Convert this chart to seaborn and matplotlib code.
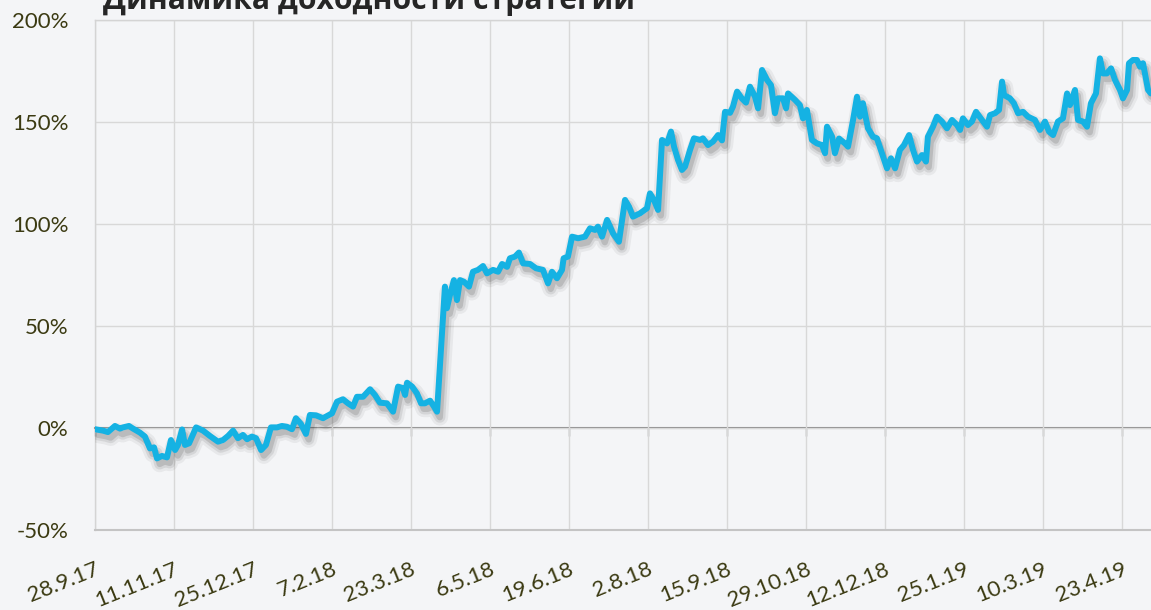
import pandas as pd
import matplotlib
matplotlib.use('Agg')
import matplotlib.pyplot as plt
import matplotlib.dates as mdates
import matplotlib.patheffects as pe
import seaborn as sns

# --- Data ---
start_date = '2017-09-28'

# days since start_date
day_offsets = [
    0, 4.5, 7.2, 11.1, 13.9, 15.6, 18.9, 21.2, 25.1, 27.8,
    30.6, 32.9, 34.5, 37.3, 40.1, 42.3, 44.6, 46.2, 48.5, 50.1,
    52.4, 56.3, 60.2, 64.0, 68.5, 71.3, 74.1, 76.9, 79.6, 82.4,
    84.7, 87.4, 89.7, 92.5, 95.2, 98.0, 101.4, 104.1, 106.9, 109.7,
    111.9, 114.7, 117.5, 119.7, 123.1, 127.0, 132.0, 134.8, 138.1, 140.9,
    143.7, 145.9, 149.3, 153.2, 155.9, 158.7, 162.6, 166.0, 168.8, 171.5,
    172.7, 173.8, 176.6, 179.3, 181.6, 183.8, 186.6, 188.8, 190.5, 194.9,
    196.0, 197.7, 199.9, 201.6, 203.3, 205.5, 208.3, 210.5, 213.3, 216.1,
    218.3, 221.7, 224.5, 226.7, 229.5, 231.1, 233.9, 236.1, 238.4, 242.3,
    245.6, 249.5, 252.3, 254.5, 257.3, 260.1, 261.0, 263.4, 265.7, 269.0,
    272.9, 275.7, 278.5, 280.1, 282.4, 285.2, 288.5, 291.8, 295.2, 297.4,
    299.6, 303.5, 307.4, 309.1, 311.3, 313.6, 315.8, 318.6, 320.8, 322.5,
    324.7, 326.9, 328.6, 331.4, 333.6, 337.0, 338.6, 341.4, 344.2, 347.0,
    349.2, 350.9, 353.7, 355.3, 357.6, 360.3, 362.6, 364.8, 367.6, 369.3,
    371.5, 374.3, 376.5, 378.7, 380.4, 383.2, 384.9, 386.0, 389.9, 392.6,
    394.3, 396.5, 399.3, 402.1, 404.9, 406.6, 407.7, 410.5, 412.1, 414.4,
    417.7, 419.4, 422.2, 424.4, 426.1, 427.7, 430.5, 433.3, 435.5, 438.3,
    441.1, 443.3, 445.6, 448.3, 450.6, 453.4, 455.6, 457.8, 460.6, 462.8,
    463.9, 466.7, 468.9, 471.7, 474.5, 477.3, 480.1, 481.8, 483.4, 486.2,
    488.4, 490.7, 494.0, 496.8, 498.5, 501.3, 503.5, 505.2, 506.3, 509.6,
    511.8, 514.1, 516.9, 519.6, 523.5, 526.3, 529.1, 531.3, 533.6, 536.3,
    539.1, 541.4, 543.0, 545.8, 547.5, 550.3, 552.5, 554.7, 557.5, 559.7,
    561.4, 563.6, 565.9, 568.1, 570.9, 572.5, 574.8, 575.9, 578.1, 580.3,
    582.0, 583.7, 586.5, 588.1,
]

# strategy return, %
returns = [
    -0.6, -1.3, -2.0, 1.0, -0.3, 0.3, 1.0, -0.3, -2.3, -4.2,
    -10.0, -9.5, -14.9, -13.7, -14.4, -5.9, -10.8, -8.3, -0.7, -8.3,
    -7.5, 0.3, -1.3, -3.9, -6.7, -5.9, -3.9, -1.3, -5.0, -3.4,
    -5.5, -4.2, -5.0, -10.8, -8.3, 0.3, 0.3, 1.0, 0.6, -0.6,
    4.8, 2.0, -2.9, 6.4, 6.2, 4.8, 7.2, 12.9, 14.1, 12.1,
    10.5, 15.3, 15.3, 19.0, 16.2, 12.4, 12.1, 8.0, 20.3, 19.5,
    16.2, 22.2, 20.3, 17.0, 12.1, 12.1, 13.4, 10.5, 8.0, 69.3,
    58.7, 65.2, 72.5, 62.7, 72.5, 71.7, 69.3, 76.6, 77.5, 79.4,
    75.8, 77.5, 76.6, 80.4, 79.0, 83.2, 84.0, 86.0, 80.7, 80.4,
    78.3, 77.5, 70.9, 76.6, 73.4, 77.5, 83.2, 84.0, 93.8, 93.0,
    93.8, 97.9, 97.1, 98.7, 93.8, 102.0, 95.4, 91.3, 111.8, 108.5,
    103.6, 105.2, 107.7, 115.0, 111.8, 106.9, 141.2, 139.5, 145.3, 137.9,
    131.4, 126.5, 128.1, 136.3, 142.0, 141.2, 142.0, 138.7, 140.4, 143.6,
    141.0, 155.0, 154.5, 157.5, 164.9, 161.5, 159.5, 167.3, 162.4, 156.7,
    175.5, 170.6, 168.1, 154.3, 161.6, 161.6, 156.7, 164.0, 160.8, 158.3,
    151.8, 155.9, 141.2, 139.5, 138.7, 134.7, 147.7, 142.8, 134.7, 141.9,
    139.5, 137.9, 151.0, 162.4, 152.6, 159.2, 146.9, 142.8, 142.0, 134.7,
    127.3, 132.2, 127.3, 136.3, 138.7, 143.6, 136.3, 130.6, 133.8, 130.6,
    142.8, 147.7, 152.6, 150.2, 146.9, 151.0, 148.5, 146.1, 151.8, 148.5,
    150.2, 155.0, 151.0, 147.7, 153.4, 154.3, 155.9, 169.8, 163.2, 161.6,
    159.2, 154.3, 155.0, 152.6, 151.0, 146.1, 150.2, 145.3, 143.6, 150.2,
    151.8, 164.0, 158.3, 165.7, 151.0, 150.2, 147.7, 159.2, 164.0, 181.2,
    173.8, 173.8, 176.3, 170.6, 165.7, 161.6, 165.7, 178.8, 180.4, 180.4,
    177.1, 178.8, 165.7, 164.0,
]

tick_dates = ['2017-09-28', '2017-11-11', '2017-12-25', '2018-02-07', '2018-03-23',
              '2018-05-06', '2018-06-19', '2018-08-02', '2018-09-15', '2018-10-29',
              '2018-12-12', '2019-01-25', '2019-03-10', '2019-04-23']
tick_labels = ['28.9.17', '11.11.17', '25.12.17', '7.2.18', '23.3.18', '6.5.18', '19.6.18',
               '2.8.18', '15.9.18', '29.10.18', '12.12.18', '25.1.19', '10.3.19', '23.4.19']

y_ticks = [-50, 0, 50, 100, 150, 200]
y_labels = ['-50%', '0%', '50%', '100%', '150%', '200%']

title = 'Динамика доходности стратегии'

# --- Build frame ---
df = pd.DataFrame({
    'date': pd.Timestamp(start_date) + pd.to_timedelta(day_offsets, unit='D'),
    'ret': returns,
})

# --- Style ---
bg = '#f4f5f7'
text_col = '#3b3a12'
sns.set_style('white')
plt.rcParams['font.family'] = ['Lato', 'Open Sans', 'DejaVu Sans']

fig = plt.figure(figsize=(11.51, 6.10), dpi=100, facecolor=bg)
ax = fig.add_axes([95 / 1151, 80 / 610, 1057 / 1151, 510 / 610], facecolor=bg)

shadow = [
    pe.SimpleLineShadow(offset=(2, -4), shadow_color='#000000', alpha=0.05, linewidth=12),
    pe.SimpleLineShadow(offset=(2, -4), shadow_color='#000000', alpha=0.08, linewidth=8),
    pe.SimpleLineShadow(offset=(2, -4), shadow_color='#000000', alpha=0.12, linewidth=4.5),
    pe.Normal(),
]
sns.lineplot(data=df, x='date', y='ret', ax=ax, color='#15b2e3', linewidth=4.3,
             solid_joinstyle='round', solid_capstyle='round', path_effects=shadow, zorder=3)

start = pd.Timestamp(start_date)
ax.set_xlim(start, start + pd.Timedelta(days=588.7))
ax.set_ylim(-50, 200)

ax.set_xticks(pd.to_datetime(tick_dates), tick_labels)
ax.set_yticks(y_ticks, y_labels)
ax.grid(True, color='#d8d8d8', linewidth=1.0)
ax.set_axisbelow(True)
ax.set_xlabel('')
ax.set_ylabel('')

ax.tick_params(axis='x', length=0, pad=21, labelsize=16, labelcolor=text_col)
ax.tick_params(axis='y', length=0, pad=19, labelsize=16, labelcolor=text_col)
for lbl in ax.get_xticklabels():
    lbl.set_rotation(22)
    lbl.set_ha('right')
    lbl.set_va('top')
    lbl.set_rotation_mode('anchor')

for side in ['left', 'top', 'right']:
    ax.spines[side].set_color('#d4d4d4')
    ax.spines[side].set_linewidth(1.0)
ax.spines['bottom'].set_color('#c4c4c4')
ax.spines['bottom'].set_linewidth(1.5)

# zero line with small ticks, like the category axis crossing at 0%
zero_ax = ax.secondary_xaxis(50 / 250)
zero_ax.set_xticks(mdates.date2num(pd.to_datetime(tick_dates)))
zero_ax.tick_params(axis='x', length=6, width=1, color='#8a8a8a', labelbottom=False, labeltop=False)
zero_ax.spines['bottom'].set_color('#8a8a8a')
zero_ax.spines['bottom'].set_linewidth(1.5)

fig.text(103 / 1151, 1 - 9 / 610, title, fontsize=21.7, fontweight='bold',
         family=['Open Sans', 'DejaVu Sans'], color='#262626', va='baseline', ha='left')

fig.savefig('out.png', dpi=100, facecolor=bg)
